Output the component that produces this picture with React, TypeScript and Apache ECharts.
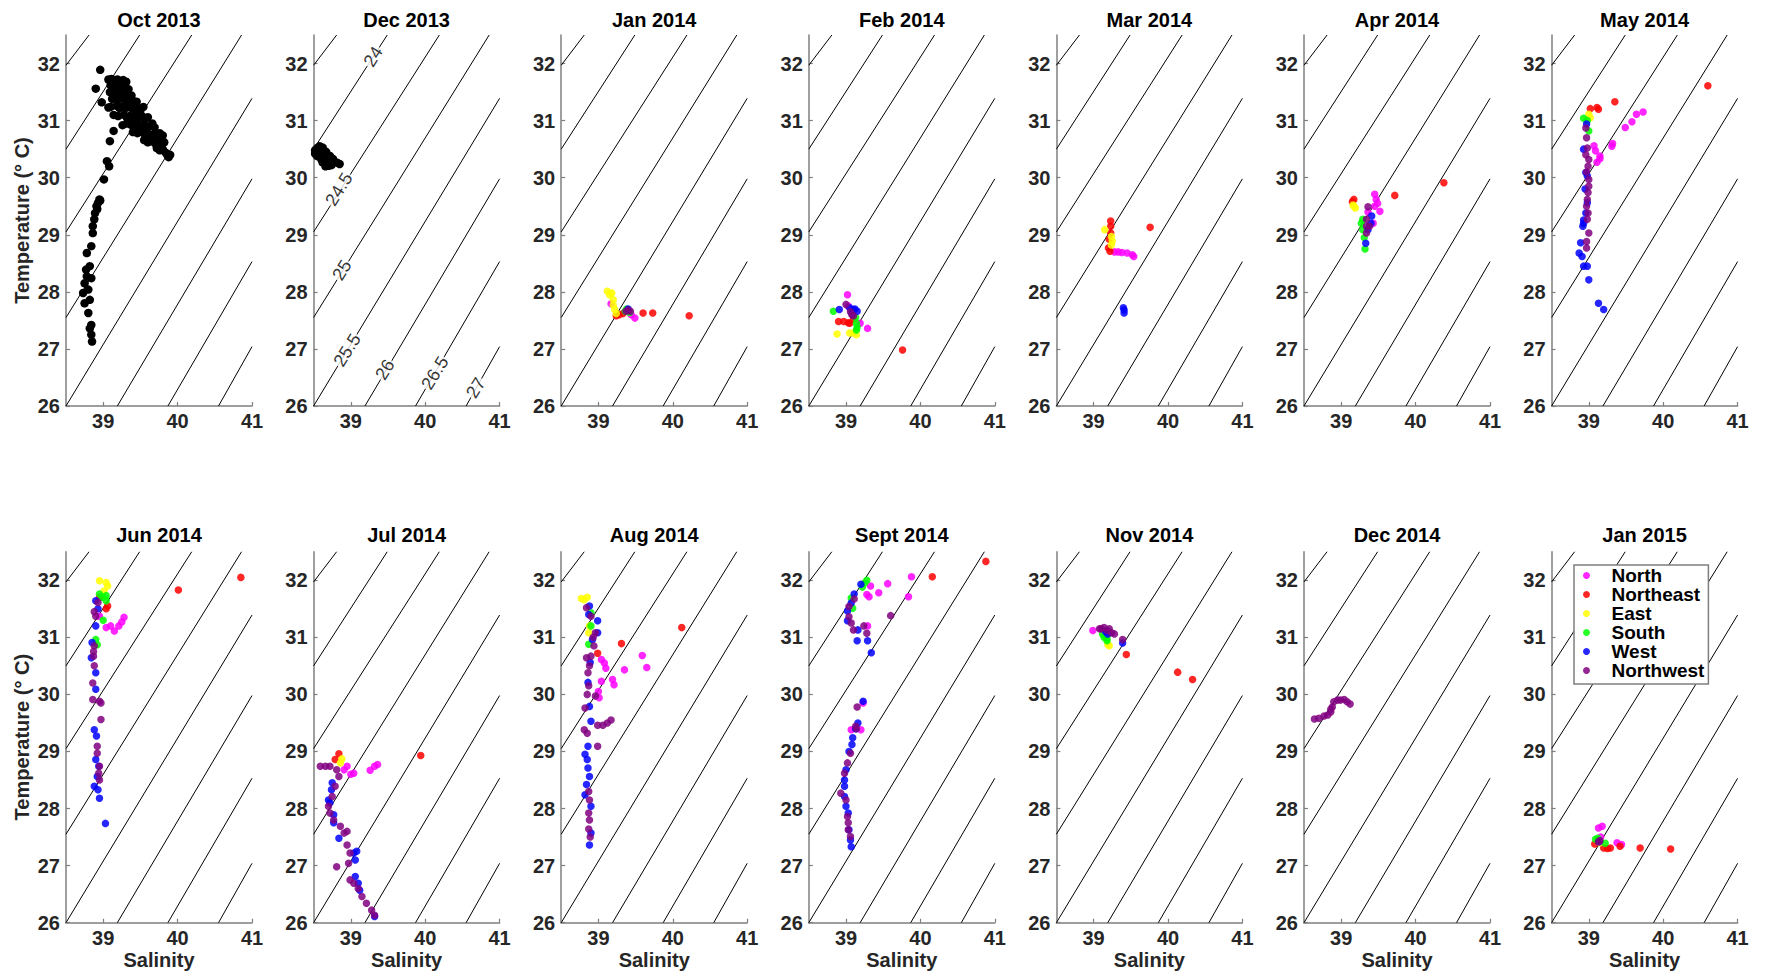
import React, { useEffect, useRef } from "react";
import * as echarts from "echarts";

const FONT = "'Liberation Sans', Arial, Helvetica, sans-serif";

const regionNames = ["North", "Northeast", "East", "South", "West", "Northwest"];
const regionCodes = ["N", "NE", "E", "S", "W", "NW"];
const regionColors = ["#ff00ff", "#ff0000", "#ffff00", "#00ff00", "#0000ff", "#800080"];

const panelTitles = [
  "Oct 2013", "Dec 2013", "Jan 2014", "Feb 2014", "Mar 2014", "Apr 2014", "May 2014",
  "Jun 2014", "Jul 2014", "Aug 2014", "Sept 2014", "Nov 2014", "Dec 2014", "Jan 2015",
];

const xTicks = [39, 40, 41];
const yTicks = [26, 27, 28, 29, 30, 31, 32];

// sigma-t isolines: start and end points (salinity, temperature)
const isoSigma = [23.5, 24, 24.5, 25, 25.5, 26, 26.5, 27];
const isoStart = [[38.5, 31.97], [38.5, 30.5], [38.5, 29.05], [38.5, 27.55], [38.5, 26.0], [39.19, 26], [39.87, 26], [40.55, 26]];
const isoEnd = [[38.81, 32.5], [39.49, 32.5], [40.19, 32.5], [40.86, 32.5], [41, 31.39], [41, 29.98], [41, 28.53], [41, 27.04]];

// contour labels on Dec 2013 panel
const contourLabelText = ["24", "24.5", "25", "25.5", "26", "26.5", "27"];
const contourLabelS = [39.3, 38.84, 38.88, 38.95, 39.46, 40.13, 40.68];
const contourLabelT = [32.12, 29.8, 28.38, 26.98, 26.64, 26.58, 26.32];

const oct2013 = [
  [38.96, 31.89, "K"], [38.9, 31.56, "K"], [38.98, 31.32, "K"], [39.07, 31.23, "K"], [39.14, 30.82, "K"],
  [39.09, 30.64, "K"], [39.05, 30.29, "K"], [39.08, 30.2, "K"], [39.01, 29.97, "K"], [38.95, 29.62, "K"],
  [38.96, 29.6, "K"], [38.93, 29.56, "K"], [38.91, 29.5, "K"], [38.92, 29.45, "K"], [38.89, 29.38, "K"],
  [38.88, 29.27, "K"], [38.86, 29.15, "K"], [38.86, 29.03, "K"], [38.84, 28.8, "K"], [38.78, 28.68, "K"],
  [38.82, 28.45, "K"], [38.77, 28.39, "K"], [38.78, 28.27, "K"], [38.84, 28.24, "K"], [38.75, 28.15, "K"],
  [38.8, 28.04, "K"], [38.73, 27.98, "K"], [38.82, 27.86, "K"], [38.75, 27.8, "K"], [38.8, 27.63, "K"],
  [38.84, 27.42, "K"], [38.82, 27.36, "K"], [38.84, 27.25, "K"], [38.85, 27.13, "K"],
  [39.07, 31.72, "K"], [39.11, 31.73, "K"], [39.15, 31.71, "K"], [39.19, 31.72, "K"], [39.23, 31.7, "K"], [39.27, 31.71, "K"], [39.31, 31.68, "K"],
  [39.1, 31.62, "K"], [39.14, 31.6, "K"], [39.18, 31.62, "K"], [39.22, 31.6, "K"], [39.26, 31.6, "K"], [39.3, 31.58, "K"], [39.34, 31.55, "K"],
  [39.09, 31.5, "K"], [39.13, 31.48, "K"], [39.17, 31.5, "K"], [39.21, 31.48, "K"], [39.25, 31.5, "K"], [39.29, 31.47, "K"], [39.33, 31.45, "K"], [39.38, 31.44, "K"],
  [39.12, 31.38, "K"], [39.16, 31.4, "K"], [39.2, 31.37, "K"], [39.24, 31.4, "K"], [39.28, 31.38, "K"], [39.32, 31.36, "K"], [39.36, 31.38, "K"], [39.4, 31.35, "K"], [39.45, 31.33, "K"],
  [39.1, 31.24, "K"], [39.18, 31.26, "K"], [39.22, 31.22, "K"], [39.26, 31.25, "K"], [39.3, 31.22, "K"], [39.34, 31.24, "K"], [39.38, 31.22, "K"], [39.42, 31.2, "K"], [39.46, 31.22, "K"], [39.5, 31.18, "K"], [39.54, 31.24, "K"],
  [39.14, 31.1, "K"], [39.2, 31.08, "K"], [39.28, 31.1, "K"], [39.32, 31.05, "K"], [39.36, 31.08, "K"], [39.4, 31.05, "K"], [39.44, 31.08, "K"], [39.48, 31.05, "K"], [39.52, 31.08, "K"], [39.56, 31.02, "K"], [39.6, 31.06, "K"],
  [39.26, 30.92, "K"], [39.32, 30.95, "K"], [39.38, 30.92, "K"], [39.42, 30.9, "K"], [39.46, 30.94, "K"], [39.5, 30.9, "K"], [39.54, 30.92, "K"], [39.58, 30.88, "K"], [39.62, 30.9, "K"], [39.66, 30.95, "K"], [39.69, 30.88, "K"],
  [39.4, 30.8, "K"], [39.46, 30.78, "K"], [39.52, 30.8, "K"], [39.56, 30.76, "K"], [39.6, 30.78, "K"], [39.64, 30.74, "K"], [39.68, 30.76, "K"], [39.72, 30.7, "K"], [39.76, 30.78, "K"], [39.8, 30.74, "K"],
  [39.55, 30.66, "K"], [39.6, 30.62, "K"], [39.65, 30.64, "K"], [39.7, 30.6, "K"], [39.74, 30.62, "K"], [39.78, 30.58, "K"], [39.82, 30.62, "K"],
  [39.72, 30.52, "K"], [39.76, 30.48, "K"], [39.8, 30.5, "K"], [39.84, 30.44, "K"], [39.86, 30.4, "K"], [39.9, 30.4, "K"], [39.88, 30.36, "K"],
];

const dec2013 = [
  [38.52, 30.48, "K"], [38.55, 30.52, "K"], [38.58, 30.55, "K"], [38.62, 30.53, "K"], [38.52, 30.42, "K"],
  [38.56, 30.45, "K"], [38.6, 30.47, "K"], [38.64, 30.48, "K"], [38.67, 30.45, "K"], [38.55, 30.38, "K"],
  [38.59, 30.4, "K"], [38.63, 30.42, "K"], [38.68, 30.4, "K"], [38.72, 30.38, "K"], [38.6, 30.33, "K"],
  [38.64, 30.35, "K"], [38.68, 30.33, "K"], [38.72, 30.32, "K"], [38.76, 30.33, "K"], [38.62, 30.27, "K"],
  [38.66, 30.25, "K"], [38.7, 30.28, "K"], [38.74, 30.26, "K"], [38.78, 30.28, "K"], [38.82, 30.26, "K"],
  [38.85, 30.24, "K"], [38.66, 30.2, "K"], [38.7, 30.21, "K"], [38.74, 30.22, "K"],
];

const jan2014 = [
  [39.17, 27.79, "N"], [39.49, 27.54, "N"], [39.44, 27.6, "N"],
  [39.24, 27.58, "NE"], [39.28, 27.6, "NE"], [39.33, 27.62, "NE"], [39.6, 27.63, "NE"], [39.73, 27.63, "NE"], [40.22, 27.58, "NE"],
  [39.12, 28.01, "E"], [39.18, 27.98, "E"], [39.15, 27.95, "E"], [39.2, 27.86, "E"], [39.2, 27.77, "E"], [39.22, 27.69, "E"], [39.24, 27.62, "E"],
  [39.36, 27.66, "S"], [39.42, 27.64, "S"], [39.38, 27.7, "S"],
  [39.4, 27.7, "W"],
  [39.4, 27.68, "NW"], [39.37, 27.66, "NW"], [39.43, 27.66, "NW"],
];

const feb2014 = [
  [39.02, 27.95, "N"], [39.29, 27.36, "N"], [39.19, 27.45, "N"], [39.03, 27.75, "N"],
  [38.9, 27.48, "NE"], [38.97, 27.48, "NE"], [39.03, 27.46, "NE"], [39.05, 27.45, "NE"], [39.1, 27.52, "NE"], [39.76, 26.98, "NE"],
  [38.88, 27.26, "E"], [39.05, 27.28, "E"], [39.14, 27.25, "E"], [39.1, 27.28, "E"],
  [38.83, 27.66, "S"], [39.14, 27.45, "S"], [39.14, 27.33, "S"], [39.15, 27.38, "S"], [39.13, 27.55, "S"],
  [38.91, 27.69, "W"], [39.05, 27.72, "W"], [39.1, 27.69, "W"], [39.15, 27.66, "W"], [39.12, 27.7, "W"], [39.08, 27.62, "W"],
  [39.0, 27.78, "NW"], [39.08, 27.6, "NW"], [39.06, 27.65, "NW"], [39.1, 27.58, "NW"],
];

const mar2014 = [
  [39.28, 28.7, "N"], [39.33, 28.7, "N"], [39.38, 28.69, "N"], [39.45, 28.68, "N"], [39.52, 28.65, "N"], [39.54, 28.62, "N"],
  [39.23, 29.24, "NE"], [39.23, 29.15, "NE"], [39.23, 29.03, "NE"], [39.21, 28.92, "NE"], [39.2, 28.77, "NE"], [39.22, 28.71, "NE"], [39.76, 29.13, "NE"],
  [39.15, 29.09, "E"], [39.24, 28.97, "E"], [39.25, 28.89, "E"], [39.24, 28.82, "E"],
  [39.4, 27.72, "W"], [39.41, 27.63, "W"], [39.41, 27.68, "W"],
];

const apr2014 = [
  [39.45, 29.71, "N"], [39.47, 29.62, "N"], [39.45, 29.5, "N"], [39.52, 29.41, "N"], [39.43, 29.2, "N"], [39.36, 29.4, "N"], [39.49, 29.55, "N"],
  [39.17, 29.62, "NE"], [39.15, 29.58, "NE"], [39.72, 29.69, "NE"], [40.38, 29.91, "NE"],
  [39.17, 29.5, "E"], [39.19, 29.47, "E"], [39.16, 29.52, "E"],
  [39.29, 29.27, "S"], [39.29, 29.09, "S"], [39.31, 28.95, "S"], [39.32, 28.75, "S"], [39.27, 29.2, "S"],
  [39.41, 29.33, "W"], [39.36, 29.09, "W"], [39.33, 28.85, "W"], [39.4, 29.2, "W"],
  [39.36, 29.49, "NW"], [39.34, 29.27, "NW"], [39.34, 29.03, "NW"], [39.38, 29.15, "NW"], [39.34, 29.15, "NW"],
];

const may2014 = [
  [39.73, 31.15, "N"], [39.64, 31.11, "N"], [39.58, 30.98, "N"], [39.49, 30.88, "N"], [39.32, 30.6, "N"], [39.31, 30.55, "N"],
  [39.15, 30.38, "N"], [39.09, 30.47, "N"], [39.07, 30.56, "N"], [39.15, 30.33, "N"], [39.11, 30.27, "N"],
  [40.6, 31.61, "NE"], [39.35, 31.33, "NE"], [39.02, 31.21, "NE"], [39.11, 31.23, "NE"], [39.13, 31.2, "NE"],
  [39.02, 31.05, "E"], [39.0, 31.11, "E"],
  [38.93, 31.04, "S"], [38.98, 31.0, "S"], [39.0, 30.82, "S"],
  [38.97, 30.94, "W"], [38.96, 30.09, "W"], [38.98, 30.03, "W"], [38.98, 29.56, "W"], [38.96, 29.38, "W"], [38.93, 29.2, "W"],
  [38.92, 29.15, "W"], [38.89, 28.86, "W"], [38.87, 28.68, "W"], [38.91, 28.62, "W"], [38.93, 28.45, "W"], [38.98, 28.45, "W"],
  [39.0, 28.21, "W"], [39.13, 27.8, "W"], [39.2, 27.69, "W"], [38.93, 30.5, "W"], [38.93, 29.26, "W"], [38.95, 29.8, "W"],
  [38.96, 30.87, "NW"], [38.97, 30.7, "NW"], [38.98, 30.52, "NW"], [39.0, 30.32, "NW"], [38.99, 30.2, "NW"], [39.0, 29.97, "NW"],
  [39.0, 29.85, "NW"], [38.99, 29.74, "NW"], [38.98, 29.62, "NW"], [38.97, 29.5, "NW"], [38.99, 29.38, "NW"], [38.98, 29.27, "NW"],
  [39.0, 29.03, "NW"], [38.97, 28.88, "NW"], [38.97, 28.77, "NW"], [38.96, 30.4, "NW"], [38.97, 30.1, "NW"],
];

const jun2014 = [
  [38.95, 31.37, "N"], [39.04, 31.17, "N"], [39.15, 31.11, "N"], [39.21, 31.2, "N"], [39.28, 31.35, "N"], [39.1, 31.2, "N"], [39.25, 31.27, "N"],
  [40.01, 31.83, "NE"], [40.85, 32.05, "NE"], [39.06, 31.55, "NE"], [38.95, 31.7, "NE"], [39.04, 31.5, "NE"],
  [38.95, 31.99, "E"], [39.04, 31.96, "E"], [39.06, 31.9, "E"], [39.01, 31.81, "E"],
  [38.95, 31.76, "S"], [38.99, 31.7, "S"], [39.04, 31.73, "S"], [39.04, 31.64, "S"], [38.9, 30.96, "S"], [38.92, 30.87, "S"], [39.0, 31.3, "S"],
  [38.9, 31.64, "W"], [38.93, 31.5, "W"], [38.9, 31.2, "W"], [38.85, 30.91, "W"], [38.84, 30.64, "W"], [38.9, 30.38, "W"], [38.9, 30.09, "W"],
  [38.88, 29.38, "W"], [38.91, 29.27, "W"], [38.9, 28.86, "W"], [38.94, 28.74, "W"], [38.88, 28.39, "W"], [38.93, 28.33, "W"],
  [38.95, 28.18, "W"], [39.03, 27.74, "W"], [38.92, 28.56, "W"],
  [38.93, 31.61, "NW"], [38.9, 31.37, "NW"], [38.88, 30.85, "NW"], [38.87, 30.67, "NW"], [38.88, 30.5, "NW"], [38.86, 30.2, "NW"],
  [38.86, 29.91, "NW"], [38.95, 29.88, "NW"], [38.97, 29.85, "NW"], [38.97, 29.56, "NW"], [38.92, 29.09, "NW"], [38.92, 28.97, "NW"],
  [38.95, 28.74, "NW"], [38.94, 28.62, "NW"], [38.95, 28.5, "NW"], [38.87, 30.75, "NW"], [38.88, 31.45, "NW"],
];

const jul2014 = [
  [39.04, 28.62, "N"], [38.91, 28.68, "N"], [38.95, 28.74, "N"], [39.26, 28.67, "N"], [39.32, 28.74, "N"], [39.36, 28.77, "N"], [39.0, 28.6, "N"],
  [38.84, 28.96, "NE"], [38.79, 28.86, "NE"], [39.94, 28.93, "NE"],
  [38.88, 28.87, "E"], [38.86, 28.8, "E"],
  [38.75, 28.45, "W"], [38.74, 28.33, "W"], [38.7, 28.15, "W"], [38.72, 28.1, "W"], [38.77, 27.89, "W"], [38.77, 27.75, "W"],
  [38.84, 27.48, "W"], [39.08, 27.25, "W"], [39.04, 27.22, "W"], [39.06, 27.1, "W"], [39.06, 26.81, "W"], [39.1, 26.69, "W"],
  [39.12, 26.57, "W"], [39.32, 26.11, "W"],
  [38.59, 28.74, "NW"], [38.72, 28.74, "NW"], [38.81, 28.68, "NW"], [38.84, 28.56, "NW"], [38.79, 28.39, "NW"], [38.75, 28.21, "NW"],
  [38.7, 28.04, "NW"], [38.72, 27.92, "NW"], [38.77, 27.8, "NW"], [38.86, 27.69, "NW"], [38.95, 27.6, "NW"], [38.95, 27.36, "NW"],
  [38.99, 27.22, "NW"], [38.97, 27.04, "NW"], [38.99, 26.75, "NW"], [39.04, 26.69, "NW"], [39.1, 26.6, "NW"], [39.15, 26.46, "NW"],
  [39.21, 26.34, "NW"], [39.28, 26.22, "NW"], [39.32, 26.13, "NW"], [38.81, 26.98, "NW"], [38.91, 27.57, "NW"], [38.66, 28.74, "NW"],
];

const aug2014 = [
  [39.04, 30.61, "N"], [39.08, 30.55, "N"], [39.1, 30.46, "N"], [39.04, 30.23, "N"], [39.01, 29.94, "N"], [39.19, 30.26, "N"],
  [39.21, 30.17, "N"], [39.35, 30.43, "N"], [39.59, 30.68, "N"], [39.65, 30.47, "N"], [39.0, 30.05, "N"],
  [39.31, 30.89, "NE"], [40.12, 31.17, "NE"], [38.99, 30.72, "NE"],
  [38.77, 31.68, "E"], [38.85, 31.7, "E"], [38.87, 31.08, "E"], [38.88, 31.2, "E"], [38.81, 31.66, "E"],
  [38.9, 31.43, "S"], [38.87, 30.88, "S"], [38.9, 31.2, "S"],
  [38.88, 31.55, "W"], [38.99, 31.29, "W"], [38.99, 31.08, "W"], [38.92, 30.96, "W"], [38.89, 30.56, "W"], [38.86, 30.21, "W"],
  [38.88, 29.79, "W"], [38.9, 29.53, "W"], [38.86, 29.09, "W"], [38.82, 28.95, "W"], [38.86, 28.71, "W"], [38.88, 28.56, "W"],
  [38.84, 28.42, "W"], [38.82, 28.24, "W"], [38.9, 28.04, "W"], [38.9, 27.57, "W"], [38.88, 27.36, "W"], [38.85, 28.86, "W"], [38.87, 31.4, "W"],
  [38.84, 31.52, "NW"], [38.9, 31.37, "NW"], [38.96, 31.08, "NW"], [38.94, 30.85, "NW"], [38.9, 30.67, "NW"], [38.84, 30.64, "NW"],
  [38.86, 30.38, "NW"], [38.87, 30.15, "NW"], [38.85, 30.0, "NW"], [38.82, 29.76, "NW"], [38.81, 29.38, "NW"], [38.85, 29.32, "NW"],
  [38.99, 29.46, "NW"], [39.06, 29.46, "NW"], [39.12, 29.5, "NW"], [39.17, 29.55, "NW"], [38.99, 29.09, "NW"], [38.87, 28.3, "NW"],
  [38.88, 28.15, "NW"], [38.87, 27.92, "NW"], [38.88, 27.8, "NW"], [38.87, 27.64, "NW"], [38.89, 27.5, "NW"], [38.96, 29.97, "NW"],
  [38.88, 30.5, "NW"], [38.93, 31.0, "NW"],
];

const sep2014 = [
  [39.88, 32.06, "N"], [39.56, 31.94, "N"], [39.44, 31.78, "N"], [39.31, 31.71, "N"], [39.33, 31.9, "N"], [39.84, 31.71, "N"],
  [39.29, 31.2, "N"], [39.23, 29.85, "N"], [39.07, 29.38, "N"], [39.2, 29.38, "N"], [39.28, 31.75, "N"],
  [40.88, 32.33, "NE"], [40.16, 32.06, "NE"],
  [39.28, 32.0, "S"], [39.22, 31.88, "S"], [39.07, 31.69, "S"], [39.09, 31.51, "S"], [39.25, 31.95, "S"],
  [39.2, 31.93, "W"], [39.11, 31.76, "W"], [39.07, 31.6, "W"], [39.02, 31.46, "W"], [39.02, 31.29, "W"], [39.16, 31.13, "W"],
  [39.15, 30.94, "W"], [39.29, 30.94, "W"], [39.34, 30.73, "W"], [39.23, 29.88, "W"], [39.16, 29.5, "W"], [39.13, 29.4, "W"],
  [39.09, 29.24, "W"], [39.08, 29.12, "W"], [39.04, 29.0, "W"], [39.0, 28.68, "W"], [38.98, 28.5, "W"], [38.98, 28.39, "W"],
  [38.98, 28.21, "W"], [39.0, 28.04, "W"], [39.03, 27.92, "W"], [39.04, 27.63, "W"], [39.07, 27.33, "W"], [39.06, 27.45, "W"],
  [39.11, 31.67, "NW"], [39.04, 31.54, "NW"], [39.04, 31.36, "NW"], [39.07, 31.25, "NW"], [39.1, 31.13, "NW"], [39.24, 31.2, "NW"],
  [39.28, 31.07, "NW"], [39.6, 31.38, "NW"], [39.15, 29.78, "NW"], [39.13, 29.44, "NW"], [39.06, 28.97, "NW"], [39.02, 28.8, "NW"],
  [38.98, 28.62, "NW"], [38.93, 28.27, "NW"], [39.0, 28.15, "NW"], [39.02, 27.86, "NW"], [39.03, 27.63, "NW"], [39.06, 27.51, "NW"],
  [39.03, 27.75, "NW"], [39.14, 29.4, "NW"],
];

const nov2014 = [
  [38.99, 31.12, "N"],
  [39.44, 30.7, "NE"], [40.13, 30.39, "NE"], [40.33, 30.26, "NE"],
  [39.21, 30.85, "E"], [39.19, 30.88, "E"],
  [39.14, 31.0, "S"], [39.18, 30.94, "S"], [39.12, 31.06, "S"], [39.18, 30.98, "S"],
  [39.19, 31.06, "W"], [39.39, 30.9, "W"], [39.16, 31.1, "W"],
  [39.08, 31.15, "NW"], [39.14, 31.17, "NW"], [39.21, 31.15, "NW"], [39.28, 31.06, "NW"], [39.39, 30.96, "NW"],
  [39.1, 31.15, "NW"], [39.18, 31.12, "NW"], [39.24, 31.08, "NW"],
];

const dec2014 = [
  [38.64, 29.57, "NW"], [38.7, 29.58, "NW"], [38.77, 29.62, "NW"], [38.82, 29.64, "NW"], [38.86, 29.69, "NW"], [38.88, 29.78, "NW"],
  [38.9, 29.87, "NW"], [38.95, 29.9, "NW"], [38.99, 29.9, "NW"], [39.04, 29.91, "NW"], [39.08, 29.87, "NW"], [39.12, 29.83, "NW"], [38.86, 29.74, "NW"],
];

const jan2015 = [
  [39.13, 27.66, "N"], [39.18, 27.69, "N"], [39.38, 27.4, "N"], [39.44, 27.37, "N"], [39.16, 27.5, "N"],
  [39.08, 27.38, "NE"], [39.2, 27.31, "NE"], [39.29, 27.31, "NE"], [39.42, 27.34, "NE"], [39.69, 27.31, "NE"], [40.1, 27.29, "NE"], [39.25, 27.3, "NE"],
  [39.15, 27.4, "E"],
  [39.09, 27.46, "S"], [39.22, 27.39, "S"], [39.12, 27.48, "S"],
  [39.14, 27.42, "W"],
  [39.13, 27.42, "NW"], [39.15, 27.44, "NW"],
];

const panelData: any[][] = [
  oct2013, dec2013, jan2014, feb2014, mar2014, apr2014, may2014,
  jun2014, jul2014, aug2014, sep2014, nov2014, dec2014, jan2015,
];

const GRID_W = 186;
const GRID_H = 371;
const COL_STEP = 247.6;
const LEFT0 = 66;
const ROW_TOPS = [35, 551.7];

function buildOption() {
  const grid: any[] = [];
  const xAxis: any[] = [];
  const yAxis: any[] = [];
  const series: any[] = [];
  const graphic: any[] = [];
  const axisColor = "#7f7f7f";

  panelTitles.forEach((title, i) => {
    const row = Math.floor(i / 7);
    const col = i % 7;
    const left = LEFT0 + col * COL_STEP;
    const top = ROW_TOPS[row];
    grid.push({ left, top, width: GRID_W, height: GRID_H, containLabel: false });
    xAxis.push({
      gridIndex: i,
      type: "value",
      min: 38.5,
      max: 41,
      axisLine: { show: true, lineStyle: { color: axisColor, width: 1.5 } },
      axisTick: { show: true, inside: true, length: 4, customValues: xTicks, lineStyle: { color: axisColor, width: 1.2 } },
      axisLabel: { customValues: xTicks, color: "#262626", fontSize: 20, lineHeight: 20, fontWeight: "bold", fontFamily: FONT, margin: 5 },
      splitLine: { show: false },
    });
    yAxis.push({
      gridIndex: i,
      type: "value",
      min: 26,
      max: 32.5,
      axisLine: { show: true, lineStyle: { color: axisColor, width: 1.5 } },
      axisTick: { show: true, inside: true, length: 4, customValues: yTicks, lineStyle: { color: axisColor, width: 1.2 } },
      axisLabel: { customValues: yTicks, color: "#262626", fontSize: 20, fontWeight: "bold", fontFamily: FONT, margin: 6 },
      splitLine: { show: false },
    });

    series.push({
      type: "lines",
      coordinateSystem: "cartesian2d",
      xAxisIndex: i,
      yAxisIndex: i,
      silent: true,
      z: 1,
      lineStyle: { color: "#000", width: 1, opacity: 1 },
      data: isoSigma.map((sig, k) => ({ name: String(sig), coords: [isoStart[k], isoEnd[k]] })),
    });

    const pts = panelData[i];
    const black = pts.filter((p) => p[2] === "K").map((p) => [p[0], p[1]]);
    if (black.length) {
      series.push({
        type: "scatter",
        name: "Data",
        xAxisIndex: i,
        yAxisIndex: i,
        symbolSize: 8.5,
        z: 3,
        itemStyle: { color: "#000", opacity: 1 },
        data: black,
      });
    }
    regionCodes.forEach((code, r) => {
      const d = pts.filter((p) => p[2] === code).map((p) => [p[0], p[1]]);
      series.push({
        type: "scatter",
        name: regionNames[r],
        xAxisIndex: i,
        yAxisIndex: i,
        symbolSize: 7.5,
        z: 3,
        itemStyle: { color: regionColors[r], opacity: 0.85 },
        data: d,
      });
    });

    graphic.push({
      type: "text",
      x: left + GRID_W / 2,
      y: row === 0 ? 20 : 535,
      style: { text: title, fontSize: 20, fontWeight: "bold", fontFamily: FONT, fill: "#000", align: "center", verticalAlign: "middle" },
    });
    if (col === 0) {
      graphic.push({
        type: "text",
        x: 22,
        y: top + GRID_H / 2,
        rotation: Math.PI / 2,
        style: { text: "Temperature (° C)", fontSize: 20, fontWeight: "bold", fontFamily: FONT, fill: "#262626", align: "center", verticalAlign: "middle" },
      });
    }
    if (row === 1) {
      graphic.push({
        type: "text",
        x: left + GRID_W / 2,
        y: 960,
        style: { text: "Salinity", fontSize: 20, lineHeight: 20, fontWeight: "bold", fontFamily: FONT, fill: "#262626", align: "center", verticalAlign: "middle" },
      });
    }
  });

  series.push({
    type: "scatter",
    name: "contour labels",
    xAxisIndex: 1,
    yAxisIndex: 1,
    symbolSize: 1,
    silent: true,
    z: 2,
    itemStyle: { color: "rgba(0,0,0,0)" },
    label: {
      show: true,
      position: "inside",
      rotate: 58,
      formatter: (p: any) => p.value[2],
      fontSize: 18,
      fontFamily: FONT,
      color: "#000",
      backgroundColor: "#fff",
      padding: [0, 1],
    },
    data: contourLabelText.map((t, k) => [contourLabelS[k], contourLabelT[k], t]),
  });

  return {
    animation: false,
    backgroundColor: "#fff",
    grid,
    xAxis,
    yAxis,
    series,
    graphic,
    legend: {
      data: regionNames.map((n) => ({ name: n, icon: "circle" })),
      orient: "vertical",
      left: 1574,
      top: 565,
      itemWidth: 40,
      itemHeight: 7,
      itemGap: 0,
      padding: [1, 4, 4, 9],
      backgroundColor: "#fff",
      borderColor: "#7f7f7f",
      borderWidth: 1.5,
      selectedMode: false,
      z: 10,
      textStyle: { fontSize: 19, fontWeight: "bold", color: "#000", fontFamily: FONT, lineHeight: 18.5 },
    },
  };
}

export default function App() {
  const ref = useRef<HTMLDivElement>(null);
  useEffect(() => {
    document.body.style.margin = "0";
    if (!ref.current) return;
    const chart = echarts.init(ref.current, undefined, { renderer: "svg" });
    chart.setOption(buildOption() as any);
    return () => chart.dispose();
  }, []);
  return <div ref={ref} style={{ width: 1768, height: 973 }} />;
}
